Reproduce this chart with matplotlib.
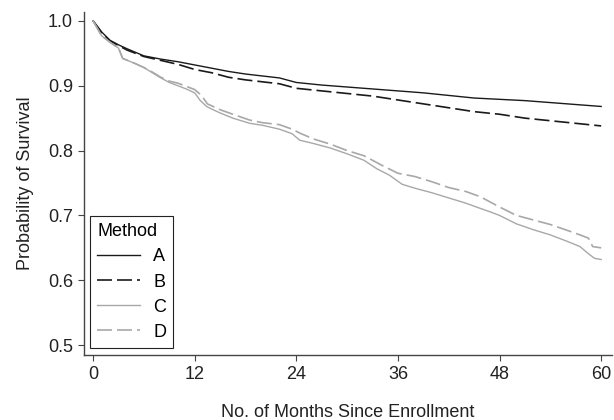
import matplotlib.pyplot as plt

plt.rcParams['font.family'] = ['Liberation Sans', 'DejaVu Sans']

# Kaplan-Meier style survival curves
months_ab = [0, 1, 2, 3, 4, 6, 8, 10, 12, 14, 16, 18, 20, 22, 24, 27, 30, 33,
             36, 39, 42, 45, 48, 51, 54, 57, 60]
surv_a = [1.0, 0.983, 0.970, 0.963, 0.957, 0.946, 0.941, 0.937, 0.932, 0.927,
          0.922, 0.918, 0.915, 0.912, 0.905, 0.901, 0.898, 0.895, 0.892, 0.889,
          0.885, 0.881, 0.879, 0.877, 0.874, 0.871, 0.868]
surv_b = [1.0, 0.982, 0.969, 0.962, 0.955, 0.945, 0.939, 0.933, 0.925, 0.920,
          0.913, 0.909, 0.906, 0.903, 0.896, 0.892, 0.888, 0.884, 0.878, 0.872,
          0.866, 0.860, 0.856, 0.850, 0.846, 0.842, 0.838]

months_c = [0, 1, 2, 3, 3.5, 5, 6, 7, 8, 9, 10, 11, 12, 12.6, 13.4, 14, 15,
            16.5, 18.5, 20, 22, 23.5, 24.4, 26, 28, 30, 32, 33.5, 35, 36.5,
            38, 40, 42, 44, 45.7, 47, 48, 50, 52, 54, 56, 57.5, 58.5, 59.2, 60]
surv_c = [1.0, 0.977, 0.967, 0.958, 0.942, 0.934, 0.928, 0.920, 0.912, 0.905,
          0.900, 0.895, 0.889, 0.878, 0.868, 0.864, 0.858, 0.850, 0.842, 0.839,
          0.833, 0.826, 0.816, 0.811, 0.804, 0.795, 0.785, 0.772, 0.762, 0.748,
          0.742, 0.735, 0.727, 0.719, 0.711, 0.705, 0.700, 0.687, 0.678, 0.670,
          0.660, 0.652, 0.641, 0.634, 0.632]

months_d = [0, 1, 2, 3, 3.5, 5, 6, 7, 8, 9, 10, 11, 12, 12.8, 13.5, 15, 16.5,
            18.5, 20, 22, 23.5, 24.4, 26, 28, 30, 32, 34, 36, 38, 40, 42, 44,
            45.7, 47, 48, 50, 52, 54, 56, 57.5, 58.5, 59, 60]
surv_d = [1.0, 0.977, 0.967, 0.958, 0.942, 0.934, 0.928, 0.921, 0.913, 0.907,
          0.904, 0.899, 0.894, 0.885, 0.872, 0.863, 0.856, 0.847, 0.843, 0.840,
          0.833, 0.827, 0.818, 0.810, 0.800, 0.792, 0.778, 0.765, 0.760, 0.752,
          0.743, 0.737, 0.729, 0.720, 0.713, 0.700, 0.693, 0.686, 0.677, 0.670,
          0.665, 0.652, 0.650]

x_ticks = [0, 12, 24, 36, 48, 60]
y_ticks = [0.5, 0.6, 0.7, 0.8, 0.9, 1.0]

fig = plt.figure(figsize=(6.14, 4.20), dpi=100)
ax = fig.add_axes([0.137, 0.155, 0.860, 0.817])

black = '#1a1a1a'
gray = '#a8a8a8'
ax.plot(months_ab, surv_a, color=black, lw=1.0, label='A')
ax.plot(months_ab, surv_b, color=black, lw=1.2, ls=(0, (9, 3)), label='B')
ax.plot(months_c, surv_c, color=gray, lw=1.0, label='C')
ax.plot(months_d, surv_d, color=gray, lw=1.2, ls=(0, (9, 3)), label='D')

ax.set_xlim(-1.06, 61.3)
ax.set_ylim(0.485, 1.014)
ax.set_xticks(x_ticks)
ax.set_yticks(y_ticks)
ax.set_yticklabels([f'{v:.1f}' for v in y_ticks])

for side in ['top', 'right']:
    ax.spines[side].set_visible(False)
for side in ['left', 'bottom']:
    ax.spines[side].set_color('#444444')
    ax.spines[side].set_linewidth(1.0)
ax.tick_params(direction='out', length=4, width=0.8, color='#444444',
               labelsize=13, pad=4, labelcolor='#222222')

ax.set_xlabel('No. of Months Since Enrollment', fontsize=13, color='#222222',
              labelpad=15)
ax.set_ylabel('Probability of Survival', fontsize=13, color='#222222',
              labelpad=10)

leg = ax.legend(title='Method', loc='lower left', bbox_to_anchor=(0.011, 0.02),
                borderaxespad=0, fontsize=13, title_fontsize=13, frameon=True,
                fancybox=False, edgecolor='#222222', alignment='left',
                handlelength=2.4, handletextpad=0.7, labelspacing=0.45,
                borderpad=0.4, framealpha=1)
leg.get_frame().set_linewidth(0.8)

plt.savefig('out.png', dpi=100)
